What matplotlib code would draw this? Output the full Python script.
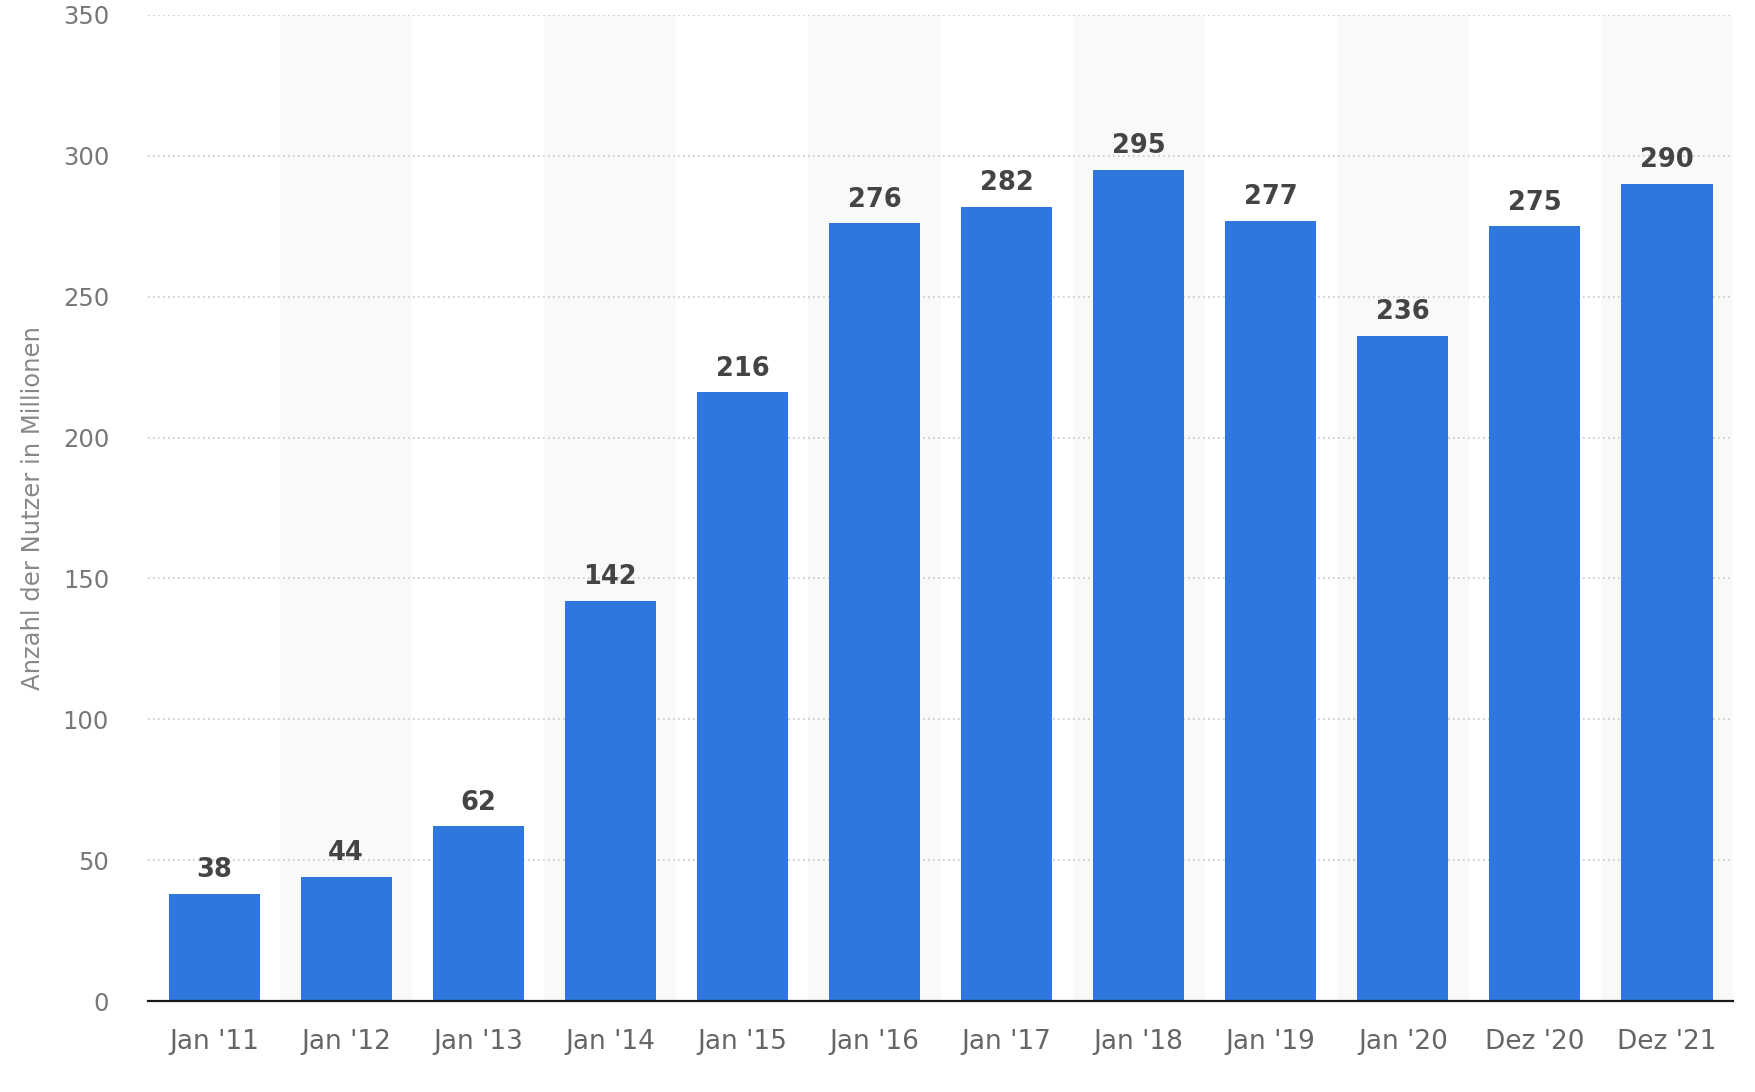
import numpy as np
import matplotlib.pyplot as plt

# Nutzerzahlen (Millionen)
kategorien = ["Jan '11", "Jan '12", "Jan '13", "Jan '14", "Jan '15", "Jan '16",
              "Jan '17", "Jan '18", "Jan '19", "Jan '20", "Dez '20", "Dez '21"]
nutzer = [38, 44, 62, 142, 216, 276, 282, 295, 277, 236, 275, 290]
y_ticks = [0, 50, 100, 150, 200, 250, 300, 350]

plt.rcParams['font.family'] = ['DejaVu Sans']

fig = plt.figure(figsize=(17.56, 10.92), dpi=100)
ax = fig.add_axes([0.0843, 0.0833, 0.9026, 0.903])

x = np.arange(len(kategorien))

# abwechselnd graue Streifen
for i in x:
    if i % 2 == 1:
        ax.axvspan(i - 0.5, i + 0.5, color='#f9f9f9', zorder=0, lw=0)

ax.bar(x, nutzer, width=0.69, color='#2e77dd', zorder=3)

for xi, v in zip(x, nutzer):
    ax.annotate(str(v), xy=(xi, v), xytext=(0, 12), textcoords='offset points',
                ha='center', va='baseline', fontsize=18.5, fontweight='bold',
                color='#444444', zorder=4)

ax.set_xlim(-0.5, len(kategorien) - 0.5)
ax.set_ylim(0, 350)
ax.set_yticks(y_ticks)
ax.set_xticks(x)
ax.set_xticklabels(kategorien)

ax.yaxis.grid(True, linestyle=(0, (1, 2)), color='#c8c8c8', linewidth=1.2, zorder=1)
ax.set_axisbelow(True)

[ax.spines[s].set_visible(False) for s in ('top', 'right', 'left')]
ax.spines['bottom'].set_color('#1a1a1a')
ax.spines['bottom'].set_linewidth(1.6)
ax.spines['bottom'].set_zorder(5)

ax.tick_params(axis='x', length=0, pad=20, labelsize=19, labelcolor='#666666')
ax.tick_params(axis='y', length=0, pad=28, labelsize=17.5, labelcolor='#777777')

ax.set_ylabel('Anzahl der Nutzer in Millionen', fontsize=17.5, color='#888888')
ax.yaxis.set_label_coords(-0.065, 0.5)

fig.savefig('out.png', dpi=100, facecolor='white')
